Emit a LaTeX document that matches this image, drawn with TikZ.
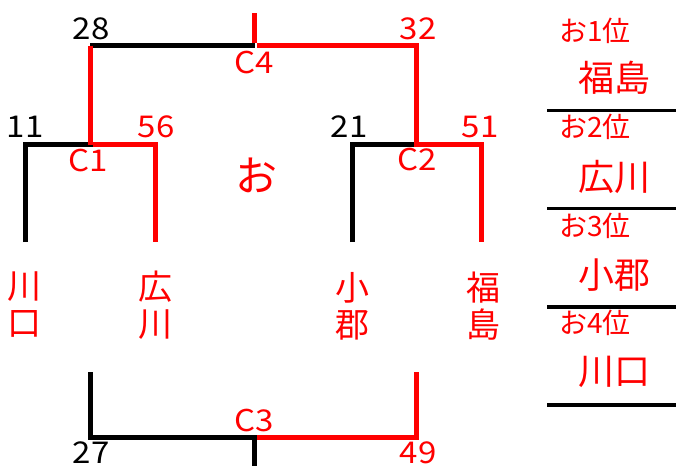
\documentclass[tikz,border=0pt]{standalone}
\usepackage{fontspec}
\setmainfont{Noto Sans CJK JP}
\begin{document}
\begin{tikzpicture}[x=1pt,y=-1pt,
  redline/.style={draw=red,line width=5pt,line join=miter},
  blackline/.style={draw=black,line width=5pt,line join=miter},
  rankline/.style={draw=black,line width=3.5pt},
  num/.style={inner sep=0pt,font=\fontsize{30}{30}\selectfont,xscale=1.1},
  rednum/.style={num,text=red},
  blacknum/.style={num,text=black},
  team/.style={inner sep=0pt,text=red,font=\fontsize{34}{37}\selectfont,align=center},
  rank/.style={inner sep=0pt,text=red,font=\fontsize{28}{28}\selectfont},
  rankteam/.style={inner sep=0pt,text=red,font=\fontsize{36}{36}\selectfont}]
\useasboundingbox (0,0) rectangle (676,466);
% coordinates
\coordinate (a1) at (25,242);
\coordinate (a2) at (25,144.5);
\coordinate (c1) at (90,144.5);
\coordinate (b2) at (155.5,144.5);
\coordinate (b1) at (155.5,242);
\coordinate (w1) at (90,45.5);
\coordinate (c4) at (254.5,45.5);
\coordinate (t4) at (254.5,13);
\coordinate (w2) at (416.5,45.5);
\coordinate (c2) at (416.5,144.5);
\coordinate (d2) at (352.5,144.5);
\coordinate (d1) at (352.5,242);
\coordinate (e2) at (481.5,144.5);
\coordinate (e1) at (481.5,242);
\coordinate (g1) at (90,372);
\coordinate (g2) at (90,437.5);
\coordinate (c3) at (254.5,437.5);
\coordinate (t3) at (254.5,466);
\coordinate (h2) at (416.5,437.5);
\coordinate (h1) at (416.5,372);
% black lines
\draw[blackline] (a1) -- (a2) -- ([xshift=2.5pt]c1);
\draw[blackline] (d1) -- (d2) -- (c2);
\draw[blackline] (w1) -- (c4);
\draw[blackline] (g1) -- (g2) -- ([xshift=2.5pt]c3);
\draw[blackline] (c3) -- (t3);
% red lines
\draw[redline] (w1) -- (c1);
\draw[redline] ([xshift=2.5pt]c1) -- (b2) -- (b1);
\draw[redline] (t4) -- ([yshift=2.5pt]c4);
\draw[redline] ([xshift=2.5pt]c4) -- (w2) -- (c2) -- (e2) -- (e1);
\draw[redline] ([xshift=2.5pt]c3) -- (h2) -- (h1);
% score labels
\node[blacknum] (n28) at (91,29) {28};
\node[rednum] (n32) at (418,29) {32};
\node[blacknum] (n11) at (25,127) {11};
\node[rednum] (n56) at (156,127) {56};
\node[blacknum] (n21) at (349,127) {21};
\node[rednum] (n51) at (480,127) {51};
\node[blacknum,anchor=base] (n27) at (91,463) {27};
\node[rednum,anchor=base] (n49) at (418,463) {49};
\node[rednum] (lc4) at (254,63) {C4};
\node[rednum] (lc1) at (88,161) {C1};
\node[rednum] (lc2) at (417,160) {C2};
\node[rednum] (lc3) at (254,420) {C3};
\node[inner sep=0pt,text=red,font=\fontsize{42}{42}\selectfont] (o) at (256,175) {お};
% teams
\node[team] (t1) at (24,305) {川\\口};
\node[team] (t2) at (155,305) {広\\川};
\node[team] (t3n) at (352,306) {小\\郡};
\node[team] (t4n) at (483,306) {福\\島};
% ranking column
\node[rank] (r1) at (595,31) {お1位};
\node[rankteam] (r1t) at (614,78) {福島};
\node[rank] (r2) at (595,127) {お2位};
\node[rankteam] (r2t) at (614,177) {広川};
\node[rank] (r3) at (595,226) {お3位};
\node[rankteam] (r3t) at (614,275) {小郡};
\node[rank] (r4) at (595,323) {お4位};
\node[rankteam] (r4t) at (614,372) {川口};
\coordinate (l1a) at (547,110.5); \coordinate (l1b) at (676,110.5);
\coordinate (l2a) at (547,208.5); \coordinate (l2b) at (676,208.5);
\coordinate (l3a) at (547,307); \coordinate (l3b) at (676,307);
\coordinate (l4a) at (547,405); \coordinate (l4b) at (676,405);
\draw[rankline] (l1a) -- (l1b);
\draw[rankline] (l2a) -- (l2b);
\draw[rankline] (l3a) -- (l3b);
\draw[rankline] (l4a) -- (l4b);
\end{tikzpicture}
\end{document}
